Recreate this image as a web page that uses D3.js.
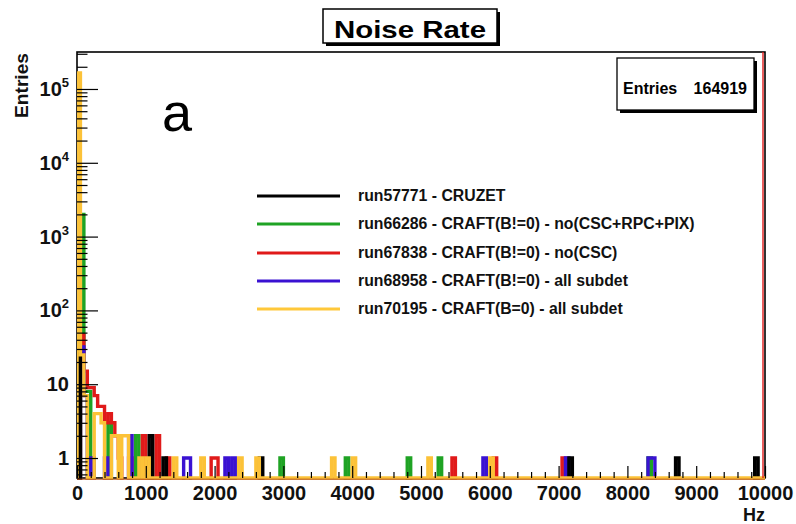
<!DOCTYPE html>
<html><head><meta charset="utf-8">
<script src="https://cdn.jsdelivr.net/npm/d3@7"></script>
<style>
html,body{margin:0;padding:0;background:#fff;}
svg{display:block;font-family:"Liberation Sans",Arial,Helvetica,sans-serif;}
</style></head>
<body><svg id="c" width="796" height="524"></svg>
<script>
// ---- data: [bin low edge (Hz), entries]; bins are 50 Hz wide, 0..10000 Hz ----
const binWidth = 50;
const xTickValues = [0,1000,2000,3000,4000,5000,6000,7000,8000,9000,10000];
const yTickValues = [1,10,100,1000,10000,100000];
const yTickLabels = [["1",""],["10",""],["10","2"],["10","3"],["10","4"],["10","5"]];
const seriesNames = ["run57771 - CRUZET","run66286 - CRAFT(B!=0) - no(CSC+RPC+PIX)","run67838 - CRAFT(B!=0) - no(CSC)","run68958 - CRAFT(B!=0) - all subdet","run70195 - CRAFT(B=0) - all subdet"];
const seriesColors = ["#000000","#1fa324","#e01a1a","#3a12d2","#ffc83a"];
const run57771 = [[0,26],[1050,2],[1250,1],[2650,1],[7150,1],[8700,1],[9850,1]];
const run66286 = [[50,2000],[100,8],[150,8],[200,1],[450,3],[850,2],[2950,1],[3900,1],[4800,1],[5250,1],[8300,1]];
const run67838 = [[50,46],[100,15],[150,9],[200,9],[250,7],[300,5],[350,5],[400,3],[450,4],[500,3],[550,2],[600,1],[750,1],[950,2],[1150,2],[1300,1],[1950,1],[2000,1],[5450,1],[6050,1],[7050,1]];
const run68958 = [[50,32],[100,7],[200,1],[400,1],[750,2],[1550,1],[1600,1],[2150,1],[2250,1],[5900,1],[7100,1],[8300,1],[8350,1]];
const run70195 = [[0,164800],[50,25],[100,7],[250,4],[300,4],[350,3],[500,2],[550,2],[650,2],[700,2],[900,1],[1000,1],[1400,1],[1800,1],[2350,1],[2600,1],[3700,1],[4000,1],[5100,1],[6000,1]];
const entries = 164919;

const svg = d3.select("#c");
const L = 77, R = 765, T = 52, B = 478;
const x = d3.scaleLinear().domain([0,10000]).range([L,R]);
const y = d3.scaleLog().domain([0.536,317000]).range([B,T]);

function toBins(pairs){
  const m = new Map(pairs);
  const out = [];
  for (let lo = 0; lo < 10000; lo += binWidth) out.push({lo, hi: lo+binWidth, v: m.get(lo) || 0});
  return out;
}
function stepPoints(bins, zeroY){
  const pts = [];
  bins.forEach(b => {
    const yy = b.v > 0 ? y(b.v) : zeroY;
    pts.push([x(b.lo), yy]); pts.push([x(b.hi), yy]);
  });
  return pts;
}

svg.append("defs").append("clipPath").attr("id","clip")
  .append("rect").attr("x",L).attr("y",T).attr("width",R-L).attr("height",B-T+2);

// frame
svg.append("rect").attr("x",L).attr("y",T).attr("width",R-L).attr("height",B-T)
  .attr("fill","none").attr("stroke","#000").attr("stroke-width",1.6);

const g = svg.append("g").attr("clip-path","url(#clip)");

function drawOutline(s, color, zeroY, lw){
  const pts = stepPoints(toBins(s), zeroY);
  g.append("path")
    .attr("d", d3.line()([[x(0),zeroY]].concat(pts,[[x(10000),zeroY]])))
    .attr("fill","none").attr("stroke",color).attr("stroke-width",lw)
    .attr("stroke-linejoin","miter");
}

drawOutline(run66286, seriesColors[1], B + 12, 3.4);
drawOutline(run67838, seriesColors[2], B + 12, 3.4);
drawOutline(run68958, seriesColors[3], B + 12, 3.4);
drawOutline(run57771, seriesColors[0], B + 12, 3.4);
drawOutline(run70195, "#fcc238", B, 3.4);

// edge of last histogram at the upper limit
g.append("line").attr("x1",x(10000)-2).attr("x2",x(10000)-2).attr("y1",T).attr("y2",B)
  .attr("stroke",seriesColors[2]).attr("stroke-width",1.4);
// baseline
svg.append("line").attr("x1",L).attr("x2",R).attr("y1",B+1.2).attr("y2",B+1.2)
  .attr("stroke","#b8561c").attr("stroke-width",1);

// y axis (ticks pointing inward)
const yMinor = [];
for (let e = -1; e <= 5; e++) for (let k = 2; k <= 9; k++) { const v = k*Math.pow(10,e); if (v >= 0.536 && v <= 317000) yMinor.push(v); }
svg.append("g").attr("transform",`translate(${L},0)`)
  .call(d3.axisLeft(y).tickValues(yMinor).tickSize(-10.5).tickFormat(""))
  .call(a=>{a.select(".domain").remove(); a.selectAll("line").attr("stroke","#000").attr("stroke-width",1.2);});
svg.append("g").attr("transform",`translate(${L},0)`)
  .call(d3.axisLeft(y).tickValues(yTickValues).tickSize(-21).tickFormat(""))
  .call(a=>{a.select(".domain").remove(); a.selectAll("line").attr("stroke","#000").attr("stroke-width",1.2);});
yTickValues.forEach((v,i) => {
  const t = svg.append("text").attr("x",69).attr("y",y(v)+7).attr("text-anchor","end")
    .attr("font-size",20).attr("font-weight","bold").attr("fill","#111");
  t.append("tspan").text(yTickLabels[i][0]);
  if (yTickLabels[i][1]) t.append("tspan").attr("dy",-9).attr("font-size",13).text(yTickLabels[i][1]);
});

// x axis (ticks pointing inward)
const xMinor = d3.range(200,10000,200).filter(v => v % 1000 !== 0);
svg.append("g").attr("transform",`translate(0,${B})`)
  .call(d3.axisBottom(x).tickValues(xMinor).tickSize(-6).tickFormat(""))
  .call(a=>{a.select(".domain").remove(); a.selectAll("line").attr("stroke","#000").attr("stroke-width",1.2);});
svg.append("g").attr("transform",`translate(0,${B})`)
  .call(d3.axisBottom(x).tickValues(xTickValues).tickSize(-12).tickPadding(8).tickFormat(d3.format("d")))
  .call(a=>{a.select(".domain").remove(); a.selectAll("line").attr("stroke","#000").attr("stroke-width",1.2);
    a.selectAll("text").attr("font-size",20).attr("font-weight","bold").attr("fill","#111")
     .attr("font-family","'Liberation Sans',Arial,sans-serif");});

// axis titles
svg.append("text").attr("x",R).attr("y",521).attr("text-anchor","end")
  .attr("font-size",18).attr("font-weight","bold").attr("fill","#111").text("Hz");
svg.append("text").attr("transform",`translate(28,${T+1}) rotate(-90)`).attr("text-anchor","end")
  .attr("font-size",19).attr("font-weight","bold").attr("fill","#111")
  .attr("textLength",65).attr("lengthAdjust","spacingAndGlyphs").text("Entries");

// title box
svg.append("rect").attr("x",326).attr("y",12).attr("width",174).attr("height",34).attr("fill","#000");
svg.append("rect").attr("x",323).attr("y",9).attr("width",174).attr("height",34)
  .attr("fill","#fff").attr("stroke","#000").attr("stroke-width",1.5);
svg.append("text").attr("x",410).attr("y",38).attr("text-anchor","middle")
  .attr("font-size",24).attr("font-weight","bold").attr("fill","#000")
  .attr("textLength",152).attr("lengthAdjust","spacingAndGlyphs").text("Noise Rate");

// stats box
svg.append("rect").attr("x",620).attr("y",61).attr("width",137).attr("height",52).attr("fill","#000");
svg.append("rect").attr("x",617).attr("y",58).attr("width",137).attr("height",52)
  .attr("fill","#fff").attr("stroke","#000").attr("stroke-width",1.3);
svg.append("text").attr("x",623).attr("y",94).attr("font-size",16).attr("font-weight","bold").text("Entries");
svg.append("text").attr("x",747).attr("y",94).attr("text-anchor","end").attr("font-size",16).attr("font-weight","bold").text(String(entries));

// panel letter
svg.append("text").attr("x",162).attr("y",131).attr("font-size",54).attr("fill","#000").text("a");

// legend
const legY = [196,224,253,281,309];
seriesNames.forEach((n,i) => {
  svg.append("line").attr("x1",257).attr("x2",340).attr("y1",legY[i]).attr("y2",legY[i])
    .attr("stroke",seriesColors[i]).attr("stroke-width",3);
  svg.append("text").attr("x",358).attr("y",legY[i]+5).attr("font-size",15.8).attr("font-weight","bold")
    .attr("fill","#111").text(n);
});
</script></body></html>
